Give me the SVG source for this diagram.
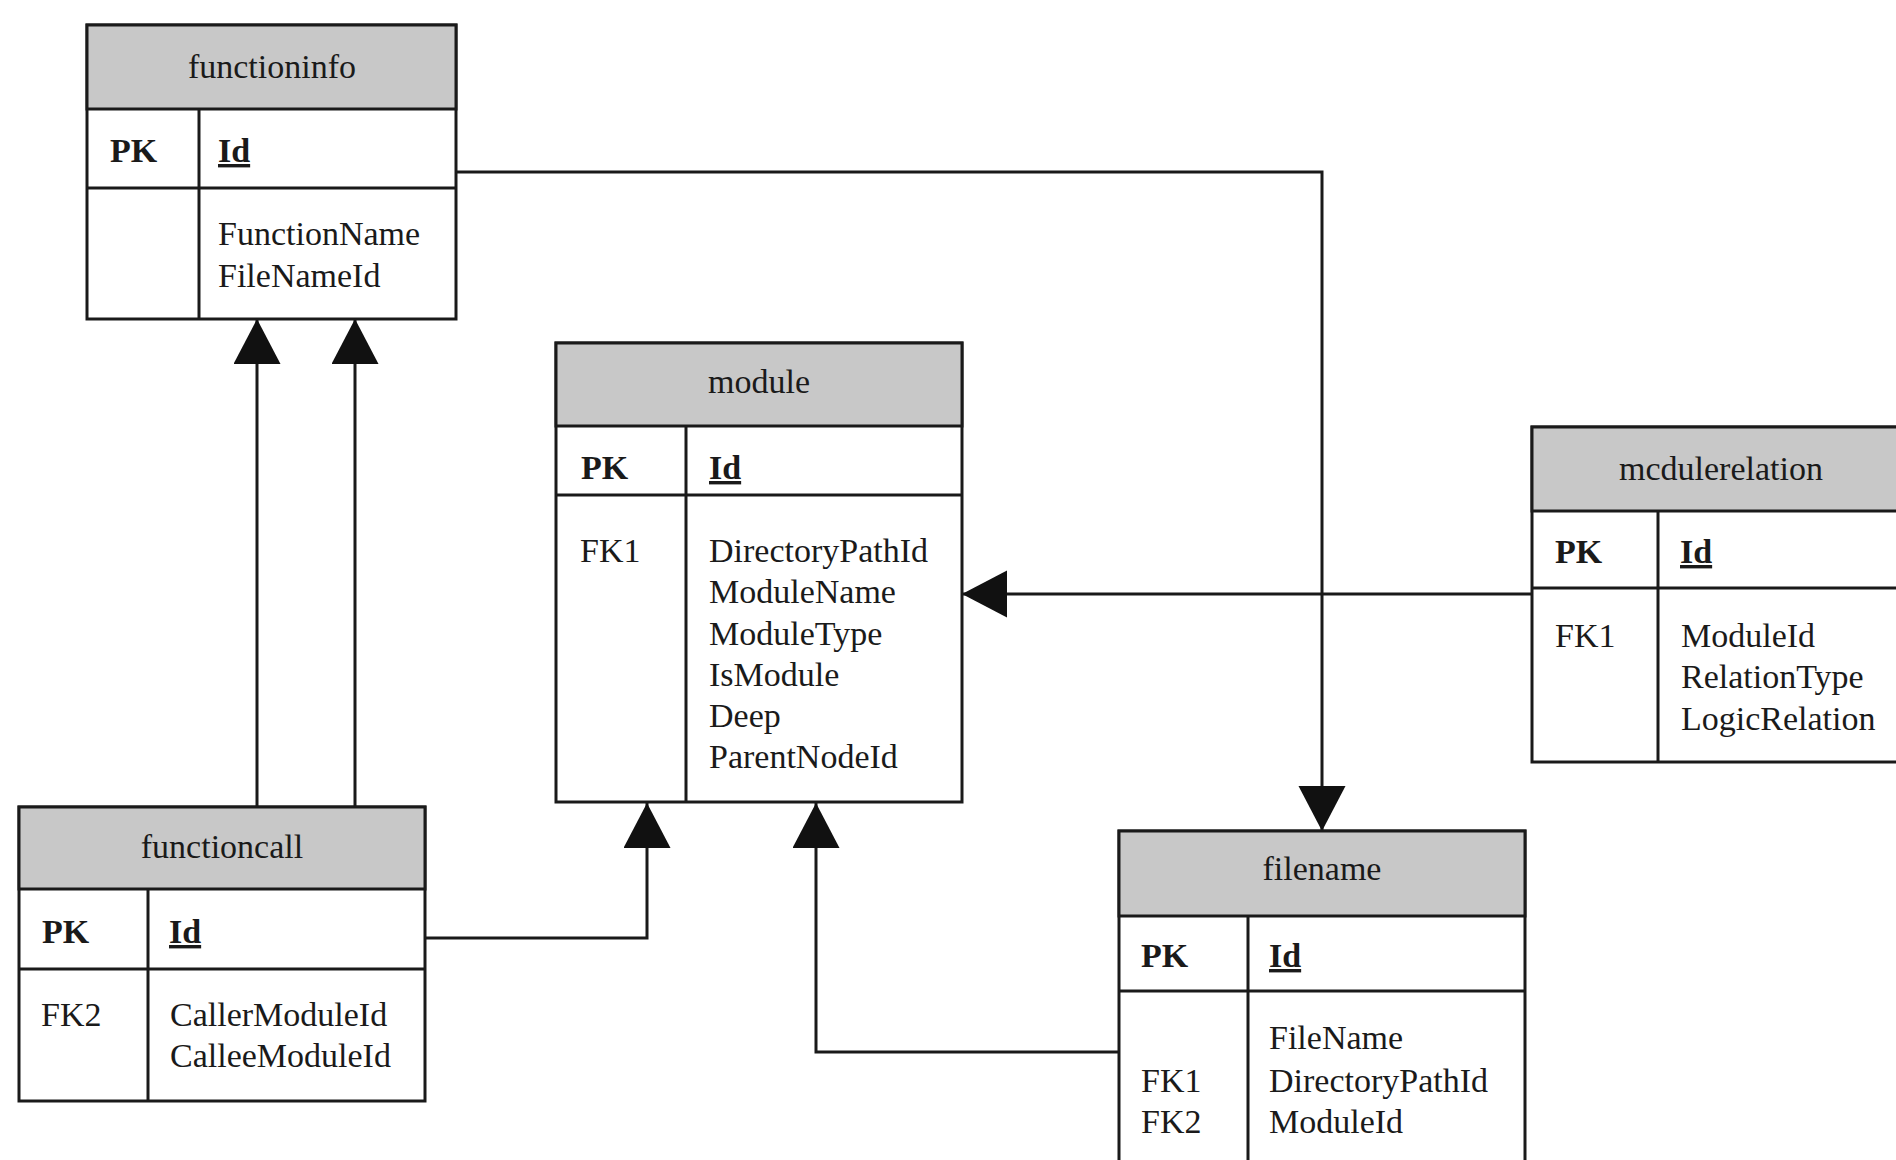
<svg xmlns="http://www.w3.org/2000/svg" width="1896" height="1160" viewBox="0 0 1896 1160">
<defs>
<style>
.box{fill:#ffffff;stroke:#1a1a1a;stroke-width:3}
.hdr{fill:#c8c8c8;stroke:#1a1a1a;stroke-width:3}
.ln{stroke:#1a1a1a;stroke-width:3;fill:none}
.t{font-family:"Liberation Serif","Times New Roman",serif;font-size:34px;fill:#1a1a1a}
.title{text-anchor:middle}
.b{font-weight:bold}
.u{font-weight:bold;text-decoration:underline}
.conn{stroke:#1a1a1a;stroke-width:3;fill:none;marker-end:url(#arr)}
</style>
<marker id="arr" markerUnits="userSpaceOnUse" markerWidth="46" markerHeight="48" refX="45" refY="23.5" orient="auto">
<path d="M0,0 L45,23.5 L0,47 Z" fill="#111"/>
</marker>
</defs>
<rect width="1896" height="1160" fill="#ffffff"/>

<g id="connectors">
<path class="conn" d="M456,172 H1322 V831"/>
<path class="conn" d="M257,807 V319"/>
<path class="conn" d="M355,807 V319"/>
<path class="conn" d="M425,938 H647 V803"/>
<path class="conn" d="M1119,1052 H816 V803"/>
<path class="conn" d="M1532,594 H962"/>
</g>

<g id="functioninfo">
<rect class="box" x="87" y="25" width="369" height="294"/>
<rect class="hdr" x="87" y="25" width="369" height="84"/>
<line class="ln" x1="87" y1="188" x2="456" y2="188"/>
<line class="ln" x1="199" y1="109" x2="199" y2="319"/>
<text class="t title" x="272" y="78">functioninfo</text>
<text class="t b" x="110" y="162">PK</text>
<text class="t u" x="218" y="162">Id</text>
<text class="t" x="218" y="245">FunctionName</text>
<text class="t" x="218" y="287">FileNameId</text>
</g>

<g id="module">
<rect class="box" x="556" y="343" width="406" height="459"/>
<rect class="hdr" x="556" y="343" width="406" height="83"/>
<line class="ln" x1="556" y1="495" x2="962" y2="495"/>
<line class="ln" x1="686" y1="426" x2="686" y2="802"/>
<text class="t title" x="759" y="393">module</text>
<text class="t b" x="581" y="479">PK</text>
<text class="t u" x="709" y="479">Id</text>
<text class="t" x="580" y="562">FK1</text>
<text class="t" x="709" y="562">DirectoryPathId</text>
<text class="t" x="709" y="603">ModuleName</text>
<text class="t" x="709" y="645">ModuleType</text>
<text class="t" x="709" y="686">IsModule</text>
<text class="t" x="709" y="727">Deep</text>
<text class="t" x="709" y="768">ParentNodeId</text>
</g>

<g id="modulerelation">
<rect class="box" x="1532" y="427" width="378" height="335"/>
<rect class="hdr" x="1532" y="427" width="378" height="84"/>
<line class="ln" x1="1532" y1="588" x2="1910" y2="588"/>
<line class="ln" x1="1658" y1="511" x2="1658" y2="762"/>
<text class="t title" x="1721" y="480">mcdulerelation</text>
<text class="t b" x="1555" y="563">PK</text>
<text class="t u" x="1680" y="563">Id</text>
<text class="t" x="1555" y="647">FK1</text>
<text class="t" x="1681" y="647">ModuleId</text>
<text class="t" x="1681" y="688">RelationType</text>
<text class="t" x="1681" y="730">LogicRelation</text>
</g>

<g id="functioncall">
<rect class="box" x="19" y="807" width="406" height="294"/>
<rect class="hdr" x="19" y="807" width="406" height="82"/>
<line class="ln" x1="19" y1="969" x2="425" y2="969"/>
<line class="ln" x1="148" y1="889" x2="148" y2="1101"/>
<text class="t title" x="222" y="858">functioncall</text>
<text class="t b" x="42" y="943">PK</text>
<text class="t u" x="169" y="943">Id</text>
<text class="t" x="41" y="1026">FK2</text>
<text class="t" x="170" y="1026">CallerModuleId</text>
<text class="t" x="170" y="1067">CalleeModuleId</text>
</g>

<g id="filename">
<rect class="box" x="1119" y="831" width="406" height="360"/>
<rect class="hdr" x="1119" y="831" width="406" height="85"/>
<line class="ln" x1="1119" y1="991" x2="1525" y2="991"/>
<line class="ln" x1="1248" y1="916" x2="1248" y2="1191"/>
<text class="t title" x="1322" y="880">filename</text>
<text class="t b" x="1141" y="967">PK</text>
<text class="t u" x="1269" y="967">Id</text>
<text class="t" x="1269" y="1049">FileName</text>
<text class="t" x="1141" y="1092">FK1</text>
<text class="t" x="1269" y="1092">DirectoryPathId</text>
<text class="t" x="1141" y="1133">FK2</text>
<text class="t" x="1269" y="1133">ModuleId</text>
</g>
</svg>
